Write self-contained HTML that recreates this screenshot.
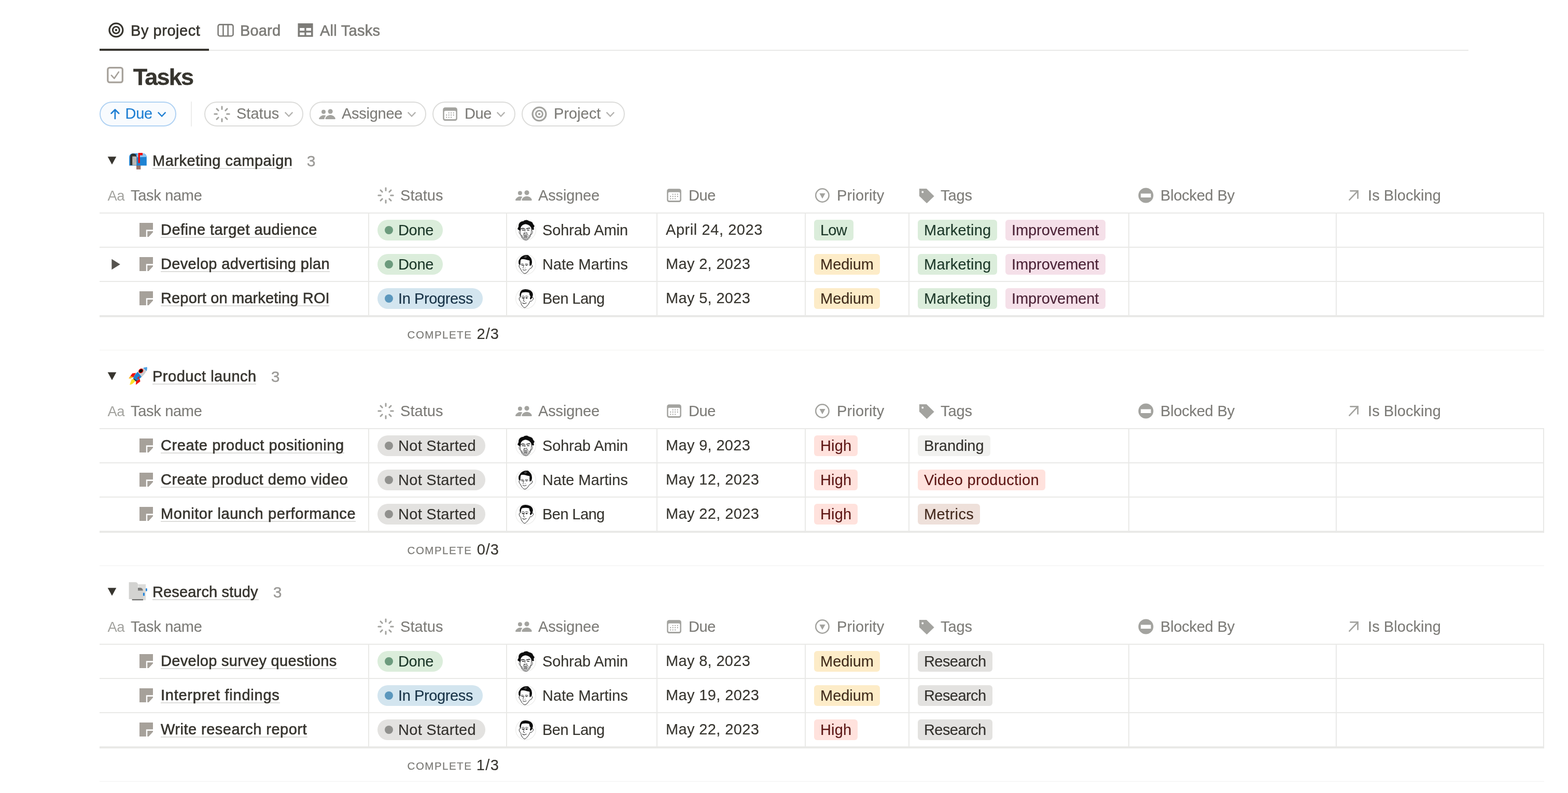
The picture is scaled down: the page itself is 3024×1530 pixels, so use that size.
<!DOCTYPE html>
<html lang="en">
<head>
<meta charset="utf-8">
<title>Tasks</title>
<style>
html,body{margin:0;padding:0;background:#fff;}
body{width:3024px;height:1530px;position:relative;overflow:hidden;font-family:'Liberation Sans', Arimo, Helvetica, Arial, sans-serif;}
main,nav,header,section{display:block;margin:0;padding:0;}
.b{position:absolute;}
.pill{top:196px;height:48px;box-sizing:border-box;border:2px solid #dcdcda;border-radius:24px;background:#fff;}
.pill.sort{border-color:#b0d2f3;background:#f8fbfe;}
.t{position:absolute;margin:0;padding:0;white-space:pre;line-height:40px;font-style:normal;font-kerning:normal;}
.ic{position:absolute;left:0;top:0;overflow:visible;pointer-events:none;}
.t0{font-size:29px;font-weight:400;color:#37352f;-webkit-text-stroke:0.65px #37352f;}
.t1{font-size:29px;font-weight:400;color:#7d7c78;-webkit-text-stroke:0.65px #7d7c78;}
.t2{font-size:45px;font-weight:700;color:#37352f;-webkit-text-stroke:0.4px #37352f;}
.t3{font-size:29px;font-weight:400;color:#1f7fd3;-webkit-text-stroke:0.15px #1f7fd3;}
.t4{font-size:29px;font-weight:400;color:#7d7c78;-webkit-text-stroke:0.15px #7d7c78;}
.t5{font-size:30px;font-weight:400;color:#9b9a97;-webkit-text-stroke:0.4px #9b9a97;}
.t6{font-size:27.5px;font-weight:400;color:#a3a39f;}
.t7{font-size:20.5px;font-weight:400;color:#7d7c78;-webkit-text-stroke:0.25px #7d7c78;}
.t8{font-size:29px;font-weight:400;color:#37352f;-webkit-text-stroke:0.15px #37352f;}
.t9{font-size:29px;font-weight:400;color:#1c3829;-webkit-text-stroke:0.15px #1c3829;}
.t10{font-size:29px;font-weight:400;color:#4c2337;-webkit-text-stroke:0.15px #4c2337;}
.t11{font-size:29px;font-weight:400;color:#402c1b;-webkit-text-stroke:0.15px #402c1b;}
.t12{font-size:29px;font-weight:400;color:#183347;-webkit-text-stroke:0.15px #183347;}
.t13{font-size:29px;font-weight:400;color:#32302c;-webkit-text-stroke:0.15px #32302c;}
.t14{font-size:29px;font-weight:400;color:#5d1715;-webkit-text-stroke:0.15px #5d1715;}
.t15{font-size:29px;font-weight:400;color:#442a1e;-webkit-text-stroke:0.15px #442a1e;}
</style>
</head>
<body>
<main>
<nav class="tabs" aria-label="Views">
<div class="b" style="left:192px;top:96px;width:2640px;height:2px;background:#e9e9e7;"></div>
<div class="b" style="left:192px;top:94px;width:211px;height:4px;background:#37352f;"></div>
<svg class="ic" width="3024" height="1530" viewBox="0 0 3024 1530" aria-hidden="true" focusable="false"><g fill="none" stroke="#37352f"><circle cx="223.9" cy="58" r="12.95" stroke-width="3.3"/><circle cx="223.9" cy="58" r="6.5" stroke-width="3.0"/></g><circle cx="223.9" cy="58" r="2.2" fill="#37352f"/><g fill="none" stroke="#7d7c78" stroke-width="2.6"><rect x="420.6" y="47.4" width="29" height="22.1" rx="3.6"/><path d="M430.4 47.4V69.5M439.7 47.4V69.5"/></g><path fill="#7d7c78" fill-rule="evenodd" d="M574.5 45H603.6V71H574.5ZM578.1 54.1V59.3H587.2V54.1ZM590.6 54.1V59.3H600V54.1ZM578.1 62.7V67.8H587.2V62.7ZM590.6 62.7V67.8H600V62.7Z"/></svg>
<span class="t t0 tab on" style="left:252.00px;top:39px;letter-spacing:0.54px;">By project</span>
<span class="t t1 tab" style="left:463.00px;top:39px;letter-spacing:0.17px;">Board</span>
<span class="t t1 tab" style="left:617.00px;top:39px;letter-spacing:0.26px;">All Tasks</span>
</nav>
<header class="title">
<svg class="ic" width="3024" height="1530" viewBox="0 0 3024 1530" aria-hidden="true" focusable="false"><g fill="none" stroke="#a6a19a" stroke-linecap="round" stroke-linejoin="round"><rect x="207.8" y="130.6" width="28.5" height="28.2" rx="3.6" stroke-width="3.3"/><path d="M214.9 145.4L220.4 151.3L228.8 138.9" stroke-width="2.7"/></g></svg>
<h1 class="t t2" style="left:256.73px;top:129px;letter-spacing:-1.74px;">Tasks</h1>
</header>
<div class="filters" role="toolbar" aria-label="Sort and filter">
<div class="b pill sort" style="left:192px;width:148px"></div>
<div class="b" style="left:368px;top:196px;width:2px;height:48px;background:#ededec;"></div>
<div class="b pill" style="left:394px;width:191px"></div>
<div class="b pill" style="left:597px;width:225px"></div>
<div class="b pill" style="left:834px;width:160px"></div>
<div class="b pill" style="left:1006px;width:199px"></div>
<svg class="ic" width="3024" height="1530" viewBox="0 0 3024 1530" aria-hidden="true" focusable="false"><path d="M221.9 229V211.6M214.6 218.8L221.9 211.5L229.2 218.8" fill="none" stroke="#1f7fd3" stroke-width="2.7" stroke-linecap="round" stroke-linejoin="round"/><path d="M304.80 216.70L312.10 224.30L319.40 216.70" fill="none" stroke="#1f7fd3" stroke-width="2.4" stroke-linecap="butt" stroke-linejoin="miter"/><path d="M437.60 220.00L442.20 220.00M434.79 226.79L438.04 230.04M428.00 229.60L428.00 234.20M421.21 226.79L417.96 230.04M418.40 220.00L413.80 220.00M421.21 213.21L417.96 209.96M428.00 210.40L428.00 205.80M434.79 213.21L438.04 209.96" fill="none" stroke="#a3a39f" stroke-width="3.0" stroke-linecap="round"/><path d="M549.70 216.70L557.00 224.30L564.30 216.70" fill="none" stroke="#b4b3b0" stroke-width="2.4" stroke-linecap="butt" stroke-linejoin="miter"/><g fill="#a3a39f" transform="translate(613.2,204.2)"><circle cx="10.8" cy="11.6" r="4.0"/><circle cx="23.9" cy="10.8" r="4.6"/><path d="M2.6 25.9C1.6 25.9 1.9 24 2.6 23C4.4 20 7.6 18 11.2 18C12.9 18 14.3 18.4 15.6 19C13.6 20.6 12.4 23 12.3 25.9Z"/><path d="M15.4 25.9C14 25.9 14.1 24.6 14.5 23.6C16 20.1 19.6 17.8 23.9 17.8C28.2 17.8 31.8 20.1 33.3 23.6C33.7 24.6 33.8 25.9 32.4 25.9Z"/></g><path d="M786.70 216.70L794.00 224.30L801.30 216.70" fill="none" stroke="#b4b3b0" stroke-width="2.4" stroke-linecap="butt" stroke-linejoin="miter"/><g transform="translate(854.2,207.3)" fill="#a3a39f"><path fill-rule="evenodd" d="M4.2 0H23.5A4.2 4.2 0 0 1 27.7 4.2V21.5A4.2 4.2 0 0 1 23.5 25.7H4.2A4.2 4.2 0 0 1 0 21.5V4.2A4.2 4.2 0 0 1 4.2 0ZM4.7 6.4A2.2 2.2 0 0 0 2.5 8.6V20.6A2.2 2.2 0 0 0 4.7 22.8H23A2.2 2.2 0 0 0 25.2 20.6V8.6A2.2 2.2 0 0 0 23 6.4Z"/><circle cx="11.5" cy="10.5" r="1.15"/><circle cx="15.9" cy="10.5" r="1.15"/><circle cx="20.5" cy="10.5" r="1.15"/><circle cx="7.0" cy="14.7" r="1.15"/><circle cx="11.5" cy="14.7" r="1.15"/><circle cx="15.9" cy="14.7" r="1.15"/><circle cx="20.5" cy="14.7" r="1.15"/><circle cx="7.0" cy="19.1" r="1.15"/><circle cx="11.5" cy="19.1" r="1.15"/><circle cx="15.9" cy="19.1" r="1.15"/></g><path d="M958.70 216.70L966.00 224.30L973.30 216.70" fill="none" stroke="#b4b3b0" stroke-width="2.4" stroke-linecap="butt" stroke-linejoin="miter"/><g fill="none" stroke="#a3a39f"><circle cx="1040" cy="220" r="12.95" stroke-width="3.3"/><circle cx="1040" cy="220" r="6.5" stroke-width="3.0"/></g><circle cx="1040" cy="220" r="2.2" fill="#a3a39f"/><path d="M1169.70 216.70L1177.00 224.30L1184.30 216.70" fill="none" stroke="#b4b3b0" stroke-width="2.4" stroke-linecap="butt" stroke-linejoin="miter"/></svg>
<div class="t t3" style="left:241.47px;top:199px;letter-spacing:-0.24px;">Due</div>
<div class="t t4" style="left:456.00px;top:199px;letter-spacing:0.02px;">Status</div>
<div class="t t4" style="left:659.00px;top:199px;letter-spacing:-0.27px;">Assignee</div>
<div class="t t4" style="left:896.00px;top:199px;letter-spacing:-0.4px;">Due</div>
<div class="t t4" style="left:1068.00px;top:199px;letter-spacing:0.04px;">Project</div>
</div>
<section class="group" aria-label="Marketing campaign">
<div class="group-head">
<div class="b ul" style="left:294px;top:324px;width:269px;height:2px;background:#dddddb;"></div>
<svg class="ic" width="3024" height="1530" viewBox="0 0 3024 1530" aria-hidden="true" focusable="false"><path d="M207.7 302.2H224.3L216 317.4Z" fill="#37352f"/><g transform="translate(240,286)"><rect x="23" y="33" width="8.3" height="7.9" fill="#9a7268"/><path d="M9.2 33.6V18Q9.2 10 17 10H35.5Q42.8 10 42.8 18V33.6Z" fill="#1e83d3"/><path d="M23.5 17.5V12.5Q24 10 27 10H35.5Q42 10 42.6 16.8Z" fill="#8ec5f1"/><path d="M11.1 32.8V17Q11.1 10.2 17 10.2Q23 10.2 23.3 17V32.8Z" fill="#2f332f"/><path d="M15.2 32.7V15.8H21.5Q23.3 16 23.4 18V32.7Z" fill="#bdbcb9"/><path d="M15.4 16L23.2 28M23.2 20L15.6 32" stroke="#a3a29f" stroke-width="0.7" fill="none"/><path d="M26.5 9H35.1V13.4H29.9V28.6H26.5Z" fill="#f20d0a"/></g></svg>
<h2 class="t t0" style="left:294.00px;top:290px;letter-spacing:0.52px;">Marketing campaign</h2>
<span class="t t5 count" style="left:591.75px;top:291px;letter-spacing:0.18px;">3</span>
</div>
<div class="thead" role="row">
<svg class="ic" width="3024" height="1530" viewBox="0 0 3024 1530" aria-hidden="true" focusable="false"><path d="M753.60 377.00L758.20 377.00M750.79 383.79L754.04 387.04M744.00 386.60L744.00 391.20M737.21 383.79L733.96 387.04M734.40 377.00L729.80 377.00M737.21 370.21L733.96 366.96M744.00 367.40L744.00 362.80M750.79 370.21L754.04 366.96" fill="none" stroke="#a3a39f" stroke-width="3.0" stroke-linecap="round"/><g fill="#a3a39f" transform="translate(992.1,361)"><circle cx="10.8" cy="11.6" r="4.0"/><circle cx="23.9" cy="10.8" r="4.6"/><path d="M2.6 25.9C1.6 25.9 1.9 24 2.6 23C4.4 20 7.6 18 11.2 18C12.9 18 14.3 18.4 15.6 19C13.6 20.6 12.4 23 12.3 25.9Z"/><path d="M15.4 25.9C14 25.9 14.1 24.6 14.5 23.6C16 20.1 19.6 17.8 23.9 17.8C28.2 17.8 31.8 20.1 33.3 23.6C33.7 24.6 33.8 25.9 32.4 25.9Z"/></g><g transform="translate(1286.2,364.3)" fill="#a3a39f"><path fill-rule="evenodd" d="M4.2 0H23.5A4.2 4.2 0 0 1 27.7 4.2V21.5A4.2 4.2 0 0 1 23.5 25.7H4.2A4.2 4.2 0 0 1 0 21.5V4.2A4.2 4.2 0 0 1 4.2 0ZM4.7 6.4A2.2 2.2 0 0 0 2.5 8.6V20.6A2.2 2.2 0 0 0 4.7 22.8H23A2.2 2.2 0 0 0 25.2 20.6V8.6A2.2 2.2 0 0 0 23 6.4Z"/><circle cx="11.5" cy="10.5" r="1.15"/><circle cx="15.9" cy="10.5" r="1.15"/><circle cx="20.5" cy="10.5" r="1.15"/><circle cx="7.0" cy="14.7" r="1.15"/><circle cx="11.5" cy="14.7" r="1.15"/><circle cx="15.9" cy="14.7" r="1.15"/><circle cx="20.5" cy="14.7" r="1.15"/><circle cx="7.0" cy="19.1" r="1.15"/><circle cx="11.5" cy="19.1" r="1.15"/><circle cx="15.9" cy="19.1" r="1.15"/></g><circle cx="1585.9" cy="377" r="12.7" fill="none" stroke="#a3a39f" stroke-width="2.5"/><path d="M1580.4 373H1591.6L1586 383.2Z" fill="#a3a39f"/><path fill-rule="evenodd" fill="#a3a39f" d="M1772.9 363.9H1786.9L1801.6 378.4L1787.4 392.3L1772.9 378.2ZM1781.2 370.5A1.9 1.9 0 1 0 1777.4 370.5A1.9 1.9 0 1 0 1781.2 370.5Z"/><path fill-rule="evenodd" fill="#a3a39f" d="M2224.4 376.9A14.5 14.5 0 1 1 2195.4 376.9A14.5 14.5 0 1 1 2224.4 376.9ZM2200.1 373.4V380.9H2219.6V373.4Z"/><path d="M2602.4 385.6L2618.2 368.8M2604.4 368.35H2618.65V382.6" fill="none" stroke="#a3a39f" stroke-width="2.7" stroke-linecap="round" stroke-linejoin="miter"/></svg>
<div class="t t6" style="left:207.53px;top:358px;letter-spacing:-0.57px;">Aa</div>
<div class="t t4 th" style="left:252.00px;top:357px;letter-spacing:-0.3px;">Task name</div>
<div class="t t4 th" style="left:772.00px;top:357px;letter-spacing:0.04px;">Status</div>
<div class="t t4 th" style="left:1038.00px;top:357px;letter-spacing:-0.14px;">Assignee</div>
<div class="t t4 th" style="left:1328.00px;top:357px;letter-spacing:-0.4px;">Due</div>
<div class="t t4 th" style="left:1614.00px;top:357px;letter-spacing:0.15px;">Priority</div>
<div class="t t4 th" style="left:1814.00px;top:357px;letter-spacing:-0.09px;">Tags</div>
<div class="t t4 th" style="left:2238.00px;top:357px;letter-spacing:-0.2px;">Blocked By</div>
<div class="t t4 th" style="left:2638.00px;top:357px;letter-spacing:0.07px;">Is Blocking</div>
</div>
<div class="grid" aria-hidden="true">
<div class="b" style="left:192px;top:410px;width:2786px;height:2px;background:#e9e9e7;"></div>
<div class="b" style="left:192px;top:476px;width:2786px;height:2px;background:#e9e9e7;"></div>
<div class="b" style="left:192px;top:542px;width:2786px;height:2px;background:#e9e9e7;"></div>
<div class="b" style="left:192px;top:608px;width:2786px;height:4px;background:#e9e9e7;"></div>
<div class="b" style="left:710px;top:412px;width:2px;height:196px;background:#e9e9e7;"></div>
<div class="b" style="left:976px;top:412px;width:2px;height:196px;background:#e9e9e7;"></div>
<div class="b" style="left:1266px;top:412px;width:2px;height:196px;background:#e9e9e7;"></div>
<div class="b" style="left:1552px;top:412px;width:2px;height:196px;background:#e9e9e7;"></div>
<div class="b" style="left:1752px;top:412px;width:2px;height:196px;background:#e9e9e7;"></div>
<div class="b" style="left:2176px;top:412px;width:2px;height:196px;background:#e9e9e7;"></div>
<div class="b" style="left:2576px;top:412px;width:2px;height:196px;background:#e9e9e7;"></div>
<div class="b" style="left:2976px;top:412px;width:2px;height:196px;background:#e9e9e7;"></div>
<div class="b" style="left:192px;top:675px;width:2786px;height:1px;background:#f1f1f0;"></div>
</div>
<div class="tfoot">
<div class="t t7" style="left:785.61px;top:626px;letter-spacing:1.49px;">COMPLETE</div>
<div class="t t8" style="left:919.61px;top:624px;letter-spacing:1.0px;">2/3</div>
</div>
<div class="row" role="row">
<div class="b ul" style="left:310px;top:457px;width:301px;height:2px;background:#dddddb;"></div>
<div class="b chip" style="left:728px;top:424px;width:126px;height:40px;background:#dbeddb;border-radius:20px;"></div>
<div class="b dot" style="left:742px;top:436px;width:16px;height:16px;background:#6c9b7d;border-radius:8px;"></div>
<div class="b chip" style="left:1570px;top:424px;width:76px;height:40px;background:#dbeddb;border-radius:6px;"></div>
<div class="b chip" style="left:1770px;top:424px;width:153px;height:40px;background:#dbeddb;border-radius:6px;"></div>
<div class="b chip" style="left:1939px;top:424px;width:193px;height:40px;background:#f5e0e9;border-radius:6px;"></div>
<svg class="ic" width="3024" height="1530" viewBox="0 0 3024 1530" aria-hidden="true" focusable="false"><path fill="#a6a19a" transform="translate(269,430)" d="M0 0H26V13.3H12.8V27H0ZM15.2 16.1H26V18L17.6 27H15.2Z"/><g transform="translate(986,416)"><circle cx="28" cy="27.95" r="19.35" fill="#fff" stroke="#eeeeed" stroke-width="1.4"/><path d="M17.6 28.9C17.3 29.0 16.2 29.1 15.8 29.7C15.4 30.2 15.0 31.2 15.1 32.2C15.2 33.2 16.1 34.9 16.5 35.7C17.0 36.4 17.8 36.6 18.0 36.7M38.7 28.1C39.0 28.3 40.1 28.5 40.5 29.2C40.9 30.0 41.1 31.5 40.9 32.7C40.7 33.8 39.8 35.2 39.3 35.9C38.8 36.6 38.1 36.6 37.8 36.7" fill="#fff" stroke="#1a1a1a" stroke-width="0.8" stroke-linejoin="round"/><path d="M17.8 25.8C17.7 26.8 17.5 30.0 17.5 31.8C17.6 33.6 17.6 34.8 18.0 36.5C18.5 38.3 19.3 40.8 20.2 42.3C21.1 43.8 22.1 44.8 23.4 45.6C24.7 46.5 26.5 47.2 27.9 47.3C29.4 47.3 31.0 46.8 32.3 45.8C33.7 44.8 35.1 42.9 36.0 41.3C36.9 39.8 37.4 38.1 37.8 36.5C38.2 34.9 38.4 33.6 38.5 31.8C38.7 30.0 38.7 26.8 38.7 25.8" fill="#fff" stroke="#1a1a1a" stroke-width="0.8" stroke-linejoin="round"/><path d="M18.3 36.5C18.5 36.1 19.8 37.8 20.6 37.8C21.5 37.8 22.3 37.0 23.2 36.5C24.1 36.1 24.6 35.5 25.8 35.2C26.9 35.0 28.9 35.0 30.1 35.2C31.3 35.5 32.2 36.1 33.1 36.5C34.0 37.0 34.9 37.8 35.7 37.8C36.4 37.8 37.5 36.0 37.6 36.5C37.8 37.0 37.1 39.5 36.5 40.8C35.9 42.2 35.0 43.7 33.9 44.7C32.9 45.7 31.1 46.4 30.1 46.8C29.1 47.3 28.8 47.3 27.9 47.3C27.1 47.2 26.0 47.2 24.9 46.6C23.9 46.1 22.4 44.9 21.5 43.8C20.6 42.8 19.9 41.6 19.3 40.4C18.8 39.2 18.0 37.0 18.3 36.5Z" fill="#6f6f6f" opacity="0.33"/><path d="M12.2 25.4C12.2 24.5 13.6 22.7 14.0 21.5C14.3 20.3 14.0 18.3 14.4 17.2C14.8 16.0 15.5 14.6 16.3 13.8C17.2 12.9 19.2 11.7 20.2 11.3C21.2 10.8 22.3 11.1 23.2 10.7C24.1 10.4 25.2 9.4 26.2 9.1C27.2 8.8 28.9 8.4 30.1 8.6C31.2 8.8 32.9 9.9 33.9 10.3C35.0 10.7 36.0 10.8 37.0 11.3C37.9 11.7 39.6 12.3 40.4 13.1C41.2 13.9 41.7 15.7 42.3 16.8C43.0 17.8 44.6 19.2 44.7 20.2C44.8 21.2 43.3 22.5 43.2 23.4C43.1 24.4 44.2 25.8 43.8 26.4C43.5 27.0 41.6 27.6 40.8 27.5C40.1 27.4 39.3 26.6 38.9 25.8C38.4 25.0 38.5 23.4 37.8 22.3C37.1 21.3 35.5 19.5 34.4 18.7C33.2 17.9 31.4 17.3 30.1 17.0C28.8 16.7 26.9 16.5 25.8 16.7C24.6 16.8 23.3 17.5 22.3 18.0C21.4 18.6 20.2 19.7 19.6 20.6C18.9 21.5 18.5 23.0 18.3 24.1C18.0 25.2 18.0 27.2 17.7 27.9C17.4 28.6 16.6 28.8 16.1 28.7C15.6 28.6 14.8 28.0 14.2 27.5C13.6 27.0 12.3 26.3 12.2 25.4Z" fill="#0d0d0d"/><path d="M19.1 25.4C19.6 25.3 20.9 24.7 21.9 24.6C22.9 24.5 24.6 24.9 25.1 24.9M29.7 25.1Q32.7 23.9 35.8 24.3" fill="none" stroke="#141414" stroke-linecap="round" stroke-linejoin="round" stroke-width="1.5"/><path d="M21.0 27.6C21.3 27.7 22.3 28.0 23.0 28.0C23.7 28.1 24.7 27.9 25.0 27.9M30.7 27.6C31.0 27.7 32.0 28.0 32.7 28.0C33.3 28.0 34.3 27.8 34.6 27.8" fill="none" stroke="#141414" stroke-linecap="round" stroke-linejoin="round" stroke-width="1.3"/><path d="M26.7 25.8L26.4 30.4M24.3 33.4Q27 34.6 30.4 32.6M24.3 37.9H30.2M25.4 40.6H30.6M23.4 35.6L25.6 34.6M31.6 35.6L29.6 34.6" fill="none" stroke="#141414" stroke-linecap="round" stroke-linejoin="round" stroke-width="0.9"/><path d="M21 40.5l.8 1.2M23 42.8l1 1.2M26 44.4l1.2.8M30 44.6l1.2-.8M33 42.6l.9-1.1M35 39.6l.7-1.2M19.6 37.6l.5 1.3M36.6 36.8l.4-1.2M28 42.6h1.4M24.8 42l1.2.3" fill="none" stroke="#141414" stroke-linecap="round" stroke-linejoin="round" stroke-width="0.8"/></g></svg>
<div class="t t0 name" style="left:310.00px;top:423px;letter-spacing:0.45px;">Define target audience</div>
<span class="t t9 status" style="left:768.00px;top:424px;letter-spacing:-0.33px;">Done</span>
<span class="t t8 person" style="left:1046.00px;top:424px;letter-spacing:-0.08px;">Sohrab Amin</span>
<time class="t t8 date" style="left:1284.00px;top:423px;letter-spacing:0.57px;">April 24, 2023</time>
<span class="t t9 prio" style="left:1582.00px;top:424px;letter-spacing:-0.8px;">Low</span>
<span class="t t9 tag" style="left:1782.00px;top:424px;letter-spacing:0.24px;">Marketing</span>
<span class="t t10 tag" style="left:1951.00px;top:424px;letter-spacing:-0.09px;">Improvement</span>
</div>
<div class="row" role="row">
<div class="b ul" style="left:310px;top:523px;width:326px;height:2px;background:#dddddb;"></div>
<div class="b chip" style="left:728px;top:490px;width:126px;height:40px;background:#dbeddb;border-radius:20px;"></div>
<div class="b dot" style="left:742px;top:502px;width:16px;height:16px;background:#6c9b7d;border-radius:8px;"></div>
<div class="b chip" style="left:1570px;top:490px;width:127px;height:40px;background:#fdecc8;border-radius:6px;"></div>
<div class="b chip" style="left:1770px;top:490px;width:153px;height:40px;background:#dbeddb;border-radius:6px;"></div>
<div class="b chip" style="left:1939px;top:490px;width:193px;height:40px;background:#f5e0e9;border-radius:6px;"></div>
<svg class="ic" width="3024" height="1530" viewBox="0 0 3024 1530" aria-hidden="true" focusable="false"><path d="M215.4 499.8L231.8 510L215.4 520.2Z" fill="#55534e"/><path fill="#a6a19a" transform="translate(269,496)" d="M0 0H26V13.3H12.8V27H0ZM15.2 16.1H26V18L17.6 27H15.2Z"/><g transform="translate(986,482)"><circle cx="28" cy="27.95" r="19.35" fill="#fff" stroke="#eeeeed" stroke-width="1.4"/><path d="M17.6 28.1C17.4 28.3 16.5 28.6 16.1 28.9C15.7 29.2 15.2 29.3 15.1 30.1C15.0 30.9 15.1 32.6 15.5 33.5C15.8 34.5 16.7 35.0 17.2 35.8C17.7 36.5 18.1 37.3 18.6 38.2C19.1 39.2 19.6 40.4 20.2 41.3C20.8 42.2 21.7 43.0 22.3 43.6C23.0 44.3 23.5 44.9 24.3 45.2C25.0 45.5 25.8 45.9 26.7 45.6C27.7 45.4 29.0 44.9 30.1 43.9C31.2 42.9 32.5 40.9 33.5 39.6C34.5 38.3 35.2 36.9 36.1 36.2C37.0 35.5 37.9 35.9 38.7 35.2C39.4 34.5 40.2 32.9 40.5 32.0C40.7 31.1 40.4 30.2 40.2 29.7C39.9 29.1 39.1 28.9 38.9 28.7" fill="#fff" stroke="#111" stroke-width="1.0" stroke-linejoin="round"/><path d="M14.5 27.5C14.3 26.9 14.1 25.1 14.1 24.1C14.1 23.0 14.1 21.6 14.4 20.6C14.7 19.7 15.6 18.7 16.1 17.8C16.7 17.0 17.4 15.6 18.0 14.8C18.7 14.1 19.4 13.4 20.2 12.9C21.0 12.4 22.1 11.7 23.2 11.3C24.3 10.8 26.1 10.3 27.5 10.1C28.9 10.0 31.5 10.1 32.7 10.4C33.8 10.7 34.4 11.9 35.0 12.5C35.7 13.1 36.3 13.7 36.9 14.4C37.4 15.1 38.3 16.2 38.8 17.4C39.2 18.6 39.8 20.9 39.9 22.3C40.0 23.8 39.9 26.0 39.6 27.1C39.3 28.2 38.6 29.1 38.0 29.7C37.4 30.2 36.1 31.3 35.7 31.0C35.3 30.7 35.4 28.5 35.3 27.5C35.3 26.5 35.3 25.1 35.3 24.1C35.3 23.0 35.7 21.3 35.2 20.7C34.7 20.1 33.0 20.1 32.0 19.9C31.0 19.6 29.4 19.1 28.4 18.9C27.4 18.7 26.5 18.4 25.4 18.3C24.2 18.1 21.7 17.9 20.6 18.0C19.6 18.2 18.7 18.5 18.3 19.4C17.8 20.3 17.9 22.7 17.7 24.1C17.6 25.4 17.5 27.7 17.3 28.4C17.0 29.0 16.3 28.5 15.9 28.4C15.5 28.2 14.8 28.1 14.5 27.5Z" fill="#0d0d0d"/><path d="M25.6 14.8Q26 12.6 28.2 11.8M27.6 15.4Q28 13.6 30 12.9" fill="none" stroke="#fff" stroke-width="0.6" stroke-linecap="round" opacity="0.85"/><path d="M18.9 27.7C19.3 27.6 20.3 27.1 21.1 27.1C21.8 27.0 23.0 27.4 23.4 27.5M27.1 27.4C27.5 27.4 28.8 27.0 29.7 27.2C30.5 27.3 31.9 28.0 32.3 28.1" fill="none" stroke="#141414" stroke-linecap="round" stroke-linejoin="round" stroke-width="0.9"/><path d="M20.1 29.4C20.3 29.5 21.0 29.8 21.5 29.8C22.0 29.9 22.7 29.7 23.0 29.7M27.8 29.4C28.1 29.5 28.8 29.8 29.3 29.8C29.8 29.9 30.5 29.7 30.7 29.7" fill="none" stroke="#141414" stroke-linecap="round" stroke-linejoin="round" stroke-width="1.3"/><path d="M24.6 29.2C24.4 29.7 23.9 31.3 23.5 32.2C23.2 33.1 22.7 34.0 22.7 34.6C22.7 35.2 23.4 35.6 23.5 35.8M26.4 35.4L27 35" fill="none" stroke="#141414" stroke-linecap="round" stroke-linejoin="round" stroke-width="0.9"/><path d="M22.3 38.2C22.8 38.4 24.3 39.4 25.4 39.4C26.5 39.4 28.3 38.4 28.9 38.2" fill="none" stroke="#141414" stroke-linecap="round" stroke-linejoin="round" stroke-width="1.0"/></g></svg>
<div class="t t0 name" style="left:310.00px;top:489px;letter-spacing:0.35px;">Develop advertising plan</div>
<span class="t t9 status" style="left:768.00px;top:490px;letter-spacing:-0.33px;">Done</span>
<span class="t t8 person" style="left:1046.00px;top:490px;letter-spacing:0.06px;">Nate Martins</span>
<time class="t t8 date" style="left:1284.00px;top:489px;letter-spacing:0.33px;">May 2, 2023</time>
<span class="t t11 prio" style="left:1582.00px;top:490px;letter-spacing:-0.03px;">Medium</span>
<span class="t t9 tag" style="left:1782.00px;top:490px;letter-spacing:0.24px;">Marketing</span>
<span class="t t10 tag" style="left:1951.00px;top:490px;letter-spacing:-0.09px;">Improvement</span>
</div>
<div class="row" role="row">
<div class="b ul" style="left:310px;top:589px;width:325px;height:2px;background:#dddddb;"></div>
<div class="b chip" style="left:728px;top:556px;width:203px;height:40px;background:#d3e5ef;border-radius:20px;"></div>
<div class="b dot" style="left:742px;top:568px;width:16px;height:16px;background:#5b97bd;border-radius:8px;"></div>
<div class="b chip" style="left:1570px;top:556px;width:127px;height:40px;background:#fdecc8;border-radius:6px;"></div>
<div class="b chip" style="left:1770px;top:556px;width:153px;height:40px;background:#dbeddb;border-radius:6px;"></div>
<div class="b chip" style="left:1939px;top:556px;width:193px;height:40px;background:#f5e0e9;border-radius:6px;"></div>
<svg class="ic" width="3024" height="1530" viewBox="0 0 3024 1530" aria-hidden="true" focusable="false"><path fill="#a6a19a" transform="translate(269,562)" d="M0 0H26V13.3H12.8V27H0ZM15.2 16.1H26V18L17.6 27H15.2Z"/><g transform="translate(986,548)"><circle cx="28" cy="27.95" r="19.35" fill="#fff" stroke="#eeeeed" stroke-width="1.4"/><path d="M17.7 25.7C17.5 25.7 16.7 25.7 16.2 26.0C15.8 26.3 15.4 26.8 15.3 27.5C15.1 28.2 15.2 29.4 15.6 30.3C15.9 31.2 16.7 32.4 17.2 33.1C17.7 33.8 18.2 33.5 18.6 34.5C18.9 35.4 18.7 37.2 19.3 38.7C20.0 40.2 21.3 42.3 22.3 43.4C23.4 44.5 24.4 45.4 25.4 45.6C26.4 45.7 27.2 45.3 28.4 44.3C29.6 43.3 31.5 41.0 32.7 39.5C33.8 38.1 34.4 36.8 35.0 35.7C35.7 34.5 36.0 33.2 36.6 32.7C37.2 32.3 37.9 33.6 38.8 33.1C39.7 32.6 41.4 30.7 42.0 29.7C42.7 28.7 42.7 27.8 42.5 27.2C42.4 26.5 41.5 25.7 40.9 25.8C40.3 25.9 39.2 27.6 38.9 27.9" fill="#fff" stroke="#111" stroke-width="1.0" stroke-linejoin="round"/><path d="M17.3 25.4C17.0 25.0 16.5 23.3 16.3 22.3C16.2 21.4 16.2 20.1 16.4 18.9C16.7 17.7 17.3 15.5 18.0 14.4C18.8 13.2 20.2 11.9 21.5 11.3C22.8 10.6 25.0 10.2 26.6 10.1C28.3 10.0 31.0 10.3 32.7 10.7C34.3 11.2 36.6 12.0 37.8 12.9C39.0 13.7 40.2 15.3 40.8 16.4C41.4 17.6 41.8 19.2 41.8 20.6C41.7 22.0 41.0 24.7 40.6 25.8C40.2 26.9 39.4 27.5 38.9 28.1C38.4 28.8 37.9 30.2 37.5 30.1C37.0 30.0 36.0 28.4 35.9 27.5C35.8 26.6 37.0 25.2 37.0 24.2C36.9 23.1 35.7 21.8 35.3 20.7C34.9 19.6 35.2 17.6 34.4 16.8C33.6 16.1 31.6 16.0 30.1 15.9C28.5 15.8 25.5 15.9 24.1 16.1C22.6 16.3 21.0 16.5 20.2 17.2C19.4 17.9 19.3 19.4 19.0 20.6C18.7 21.9 18.4 24.7 18.1 25.4C17.9 26.2 17.5 25.9 17.3 25.4Z" fill="#0d0d0d"/><path d="M20.2 24.2C20.6 24.0 21.6 23.3 22.3 23.2C23.1 23.1 24.2 23.5 24.6 23.5M27.5 23.5C27.9 23.5 29.3 23.1 30.1 23.2C30.9 23.3 31.9 24.0 32.3 24.2" fill="none" stroke="#141414" stroke-linecap="round" stroke-linejoin="round" stroke-width="0.9"/><ellipse cx="22.6" cy="27" rx="1.35" ry="1.0" fill="#111"/><ellipse cx="29.5" cy="26.9" rx="1.45" ry="1.0" fill="#111"/><path d="M20.6 26.4Q22.6 25.6 24.4 26.6M27.6 26.3Q29.6 25.5 31.6 26.6" fill="none" stroke="#141414" stroke-linecap="round" stroke-linejoin="round" stroke-width="0.8"/><path d="M25.4 24.9C25.3 25.5 24.8 27.2 24.5 28.4C24.2 29.5 23.5 30.9 23.5 31.8C23.5 32.7 24.1 33.4 24.5 33.6C24.9 33.8 25.8 33.1 26.0 33.0" fill="none" stroke="#141414" stroke-linecap="round" stroke-linejoin="round" stroke-width="1.0"/><path d="M21.8 36.5C22.4 36.8 23.8 37.9 25.0 37.9C26.2 37.9 28.2 36.6 28.9 36.4" fill="none" stroke="#141414" stroke-linecap="round" stroke-linejoin="round" stroke-width="1.1"/></g></svg>
<div class="t t0 name" style="left:310.00px;top:555px;letter-spacing:0.15px;">Report on marketing ROI</div>
<span class="t t12 status" style="left:768.00px;top:556px;letter-spacing:-0.38px;">In Progress</span>
<span class="t t8 person" style="left:1046.00px;top:556px;letter-spacing:-0.53px;">Ben Lang</span>
<time class="t t8 date" style="left:1284.00px;top:555px;letter-spacing:0.33px;">May 5, 2023</time>
<span class="t t11 prio" style="left:1582.00px;top:556px;letter-spacing:-0.03px;">Medium</span>
<span class="t t9 tag" style="left:1782.00px;top:556px;letter-spacing:0.24px;">Marketing</span>
<span class="t t10 tag" style="left:1951.00px;top:556px;letter-spacing:-0.09px;">Improvement</span>
</div>
</section>
<section class="group" aria-label="Product launch">
<div class="group-head">
<div class="b ul" style="left:294px;top:740px;width:200px;height:2px;background:#dddddb;"></div>
<svg class="ic" width="3024" height="1530" viewBox="0 0 3024 1530" aria-hidden="true" focusable="false"><path d="M207.7 718.2H224.3L216 733.4Z" fill="#37352f"/><g transform="translate(240,700)"><path d="M8.5 30L15 20.5L22 19.5L19 27.5Z" fill="#f1120c"/><path d="M8.3 30.2L11 26L17 27L12 30.5Z" fill="#fbc21c"/><path d="M22 42.5L22.5 34L29.5 30L30.5 36Z" fill="#f1120c"/><path d="M10 42.5L14 31.5L19.5 31L21 35.5L15 41Z" fill="#fde028"/><path d="M17 29.5C19 22 30 10 43.5 8.3C45 14 38 26 24.5 34Z" fill="#c9cdd0"/><path d="M17 29.5C18.5 25 22 20.5 25.5 17.5L33 27C30 30 27.5 32 24.5 34Z" fill="#2080d0"/><path d="M36.5 9.8C39 8.8 41.5 8.4 43.6 8.3C44 10.5 43.8 13 42.6 16Z" fill="#4aa0e4"/><path d="M17 29.5L24.5 34L22 36L17.5 31.5Z" fill="#17384f"/><ellipse cx="31.8" cy="15.6" rx="4.3" ry="3.5" transform="rotate(-38 31.8 15.6)" fill="#0a0a0a" stroke="#e8120d" stroke-width="1.4"/><path d="M24 30L29 25.5L27.5 31Z" fill="#f1120c"/></g></svg>
<h2 class="t t0" style="left:294.00px;top:706px;letter-spacing:0.52px;">Product launch</h2>
<span class="t t5 count" style="left:522.75px;top:707px;letter-spacing:0.68px;">3</span>
</div>
<div class="thead" role="row">
<svg class="ic" width="3024" height="1530" viewBox="0 0 3024 1530" aria-hidden="true" focusable="false"><path d="M753.60 793.00L758.20 793.00M750.79 799.79L754.04 803.04M744.00 802.60L744.00 807.20M737.21 799.79L733.96 803.04M734.40 793.00L729.80 793.00M737.21 786.21L733.96 782.96M744.00 783.40L744.00 778.80M750.79 786.21L754.04 782.96" fill="none" stroke="#a3a39f" stroke-width="3.0" stroke-linecap="round"/><g fill="#a3a39f" transform="translate(992.1,777)"><circle cx="10.8" cy="11.6" r="4.0"/><circle cx="23.9" cy="10.8" r="4.6"/><path d="M2.6 25.9C1.6 25.9 1.9 24 2.6 23C4.4 20 7.6 18 11.2 18C12.9 18 14.3 18.4 15.6 19C13.6 20.6 12.4 23 12.3 25.9Z"/><path d="M15.4 25.9C14 25.9 14.1 24.6 14.5 23.6C16 20.1 19.6 17.8 23.9 17.8C28.2 17.8 31.8 20.1 33.3 23.6C33.7 24.6 33.8 25.9 32.4 25.9Z"/></g><g transform="translate(1286.2,780.3)" fill="#a3a39f"><path fill-rule="evenodd" d="M4.2 0H23.5A4.2 4.2 0 0 1 27.7 4.2V21.5A4.2 4.2 0 0 1 23.5 25.7H4.2A4.2 4.2 0 0 1 0 21.5V4.2A4.2 4.2 0 0 1 4.2 0ZM4.7 6.4A2.2 2.2 0 0 0 2.5 8.6V20.6A2.2 2.2 0 0 0 4.7 22.8H23A2.2 2.2 0 0 0 25.2 20.6V8.6A2.2 2.2 0 0 0 23 6.4Z"/><circle cx="11.5" cy="10.5" r="1.15"/><circle cx="15.9" cy="10.5" r="1.15"/><circle cx="20.5" cy="10.5" r="1.15"/><circle cx="7.0" cy="14.7" r="1.15"/><circle cx="11.5" cy="14.7" r="1.15"/><circle cx="15.9" cy="14.7" r="1.15"/><circle cx="20.5" cy="14.7" r="1.15"/><circle cx="7.0" cy="19.1" r="1.15"/><circle cx="11.5" cy="19.1" r="1.15"/><circle cx="15.9" cy="19.1" r="1.15"/></g><circle cx="1585.9" cy="793" r="12.7" fill="none" stroke="#a3a39f" stroke-width="2.5"/><path d="M1580.4 789H1591.6L1586 799.2Z" fill="#a3a39f"/><path fill-rule="evenodd" fill="#a3a39f" d="M1772.9 779.9H1786.9L1801.6 794.4L1787.4 808.3L1772.9 794.2ZM1781.2 786.5A1.9 1.9 0 1 0 1777.4 786.5A1.9 1.9 0 1 0 1781.2 786.5Z"/><path fill-rule="evenodd" fill="#a3a39f" d="M2224.4 792.9A14.5 14.5 0 1 1 2195.4 792.9A14.5 14.5 0 1 1 2224.4 792.9ZM2200.1 789.4V796.9H2219.6V789.4Z"/><path d="M2602.4 801.6L2618.2 784.8M2604.4 784.35H2618.65V798.6" fill="none" stroke="#a3a39f" stroke-width="2.7" stroke-linecap="round" stroke-linejoin="miter"/></svg>
<div class="t t6" style="left:207.53px;top:774px;letter-spacing:-0.57px;">Aa</div>
<div class="t t4 th" style="left:252.00px;top:773px;letter-spacing:-0.3px;">Task name</div>
<div class="t t4 th" style="left:772.00px;top:773px;letter-spacing:0.04px;">Status</div>
<div class="t t4 th" style="left:1038.00px;top:773px;letter-spacing:-0.14px;">Assignee</div>
<div class="t t4 th" style="left:1328.00px;top:773px;letter-spacing:-0.4px;">Due</div>
<div class="t t4 th" style="left:1614.00px;top:773px;letter-spacing:0.15px;">Priority</div>
<div class="t t4 th" style="left:1814.00px;top:773px;letter-spacing:-0.09px;">Tags</div>
<div class="t t4 th" style="left:2238.00px;top:773px;letter-spacing:-0.2px;">Blocked By</div>
<div class="t t4 th" style="left:2638.00px;top:773px;letter-spacing:0.07px;">Is Blocking</div>
</div>
<div class="grid" aria-hidden="true">
<div class="b" style="left:192px;top:826px;width:2786px;height:2px;background:#e9e9e7;"></div>
<div class="b" style="left:192px;top:892px;width:2786px;height:2px;background:#e9e9e7;"></div>
<div class="b" style="left:192px;top:958px;width:2786px;height:2px;background:#e9e9e7;"></div>
<div class="b" style="left:192px;top:1024px;width:2786px;height:4px;background:#e9e9e7;"></div>
<div class="b" style="left:710px;top:828px;width:2px;height:196px;background:#e9e9e7;"></div>
<div class="b" style="left:976px;top:828px;width:2px;height:196px;background:#e9e9e7;"></div>
<div class="b" style="left:1266px;top:828px;width:2px;height:196px;background:#e9e9e7;"></div>
<div class="b" style="left:1552px;top:828px;width:2px;height:196px;background:#e9e9e7;"></div>
<div class="b" style="left:1752px;top:828px;width:2px;height:196px;background:#e9e9e7;"></div>
<div class="b" style="left:2176px;top:828px;width:2px;height:196px;background:#e9e9e7;"></div>
<div class="b" style="left:2576px;top:828px;width:2px;height:196px;background:#e9e9e7;"></div>
<div class="b" style="left:2976px;top:828px;width:2px;height:196px;background:#e9e9e7;"></div>
<div class="b" style="left:192px;top:1091px;width:2786px;height:1px;background:#f1f1f0;"></div>
</div>
<div class="tfoot">
<div class="t t7" style="left:785.61px;top:1042px;letter-spacing:1.49px;">COMPLETE</div>
<div class="t t8" style="left:919.84px;top:1040px;letter-spacing:0.88px;">0/3</div>
</div>
<div class="row" role="row">
<div class="b ul" style="left:310px;top:873px;width:354px;height:2px;background:#dddddb;"></div>
<div class="b chip" style="left:728px;top:840px;width:208px;height:40px;background:#e3e2e0;border-radius:20px;"></div>
<div class="b dot" style="left:742px;top:852px;width:16px;height:16px;background:#91918e;border-radius:8px;"></div>
<div class="b chip" style="left:1570px;top:840px;width:84px;height:40px;background:#ffe2dd;border-radius:6px;"></div>
<div class="b chip" style="left:1770px;top:840px;width:140px;height:40px;background:#f1f1ef;border-radius:6px;"></div>
<svg class="ic" width="3024" height="1530" viewBox="0 0 3024 1530" aria-hidden="true" focusable="false"><path fill="#a6a19a" transform="translate(269,846)" d="M0 0H26V13.3H12.8V27H0ZM15.2 16.1H26V18L17.6 27H15.2Z"/><g transform="translate(986,832)"><circle cx="28" cy="27.95" r="19.35" fill="#fff" stroke="#eeeeed" stroke-width="1.4"/><path d="M17.6 28.9C17.3 29.0 16.2 29.1 15.8 29.7C15.4 30.2 15.0 31.2 15.1 32.2C15.2 33.2 16.1 34.9 16.5 35.7C17.0 36.4 17.8 36.6 18.0 36.7M38.7 28.1C39.0 28.3 40.1 28.5 40.5 29.2C40.9 30.0 41.1 31.5 40.9 32.7C40.7 33.8 39.8 35.2 39.3 35.9C38.8 36.6 38.1 36.6 37.8 36.7" fill="#fff" stroke="#1a1a1a" stroke-width="0.8" stroke-linejoin="round"/><path d="M17.8 25.8C17.7 26.8 17.5 30.0 17.5 31.8C17.6 33.6 17.6 34.8 18.0 36.5C18.5 38.3 19.3 40.8 20.2 42.3C21.1 43.8 22.1 44.8 23.4 45.6C24.7 46.5 26.5 47.2 27.9 47.3C29.4 47.3 31.0 46.8 32.3 45.8C33.7 44.8 35.1 42.9 36.0 41.3C36.9 39.8 37.4 38.1 37.8 36.5C38.2 34.9 38.4 33.6 38.5 31.8C38.7 30.0 38.7 26.8 38.7 25.8" fill="#fff" stroke="#1a1a1a" stroke-width="0.8" stroke-linejoin="round"/><path d="M18.3 36.5C18.5 36.1 19.8 37.8 20.6 37.8C21.5 37.8 22.3 37.0 23.2 36.5C24.1 36.1 24.6 35.5 25.8 35.2C26.9 35.0 28.9 35.0 30.1 35.2C31.3 35.5 32.2 36.1 33.1 36.5C34.0 37.0 34.9 37.8 35.7 37.8C36.4 37.8 37.5 36.0 37.6 36.5C37.8 37.0 37.1 39.5 36.5 40.8C35.9 42.2 35.0 43.7 33.9 44.7C32.9 45.7 31.1 46.4 30.1 46.8C29.1 47.3 28.8 47.3 27.9 47.3C27.1 47.2 26.0 47.2 24.9 46.6C23.9 46.1 22.4 44.9 21.5 43.8C20.6 42.8 19.9 41.6 19.3 40.4C18.8 39.2 18.0 37.0 18.3 36.5Z" fill="#6f6f6f" opacity="0.33"/><path d="M12.2 25.4C12.2 24.5 13.6 22.7 14.0 21.5C14.3 20.3 14.0 18.3 14.4 17.2C14.8 16.0 15.5 14.6 16.3 13.8C17.2 12.9 19.2 11.7 20.2 11.3C21.2 10.8 22.3 11.1 23.2 10.7C24.1 10.4 25.2 9.4 26.2 9.1C27.2 8.8 28.9 8.4 30.1 8.6C31.2 8.8 32.9 9.9 33.9 10.3C35.0 10.7 36.0 10.8 37.0 11.3C37.9 11.7 39.6 12.3 40.4 13.1C41.2 13.9 41.7 15.7 42.3 16.8C43.0 17.8 44.6 19.2 44.7 20.2C44.8 21.2 43.3 22.5 43.2 23.4C43.1 24.4 44.2 25.8 43.8 26.4C43.5 27.0 41.6 27.6 40.8 27.5C40.1 27.4 39.3 26.6 38.9 25.8C38.4 25.0 38.5 23.4 37.8 22.3C37.1 21.3 35.5 19.5 34.4 18.7C33.2 17.9 31.4 17.3 30.1 17.0C28.8 16.7 26.9 16.5 25.8 16.7C24.6 16.8 23.3 17.5 22.3 18.0C21.4 18.6 20.2 19.7 19.6 20.6C18.9 21.5 18.5 23.0 18.3 24.1C18.0 25.2 18.0 27.2 17.7 27.9C17.4 28.6 16.6 28.8 16.1 28.7C15.6 28.6 14.8 28.0 14.2 27.5C13.6 27.0 12.3 26.3 12.2 25.4Z" fill="#0d0d0d"/><path d="M19.1 25.4C19.6 25.3 20.9 24.7 21.9 24.6C22.9 24.5 24.6 24.9 25.1 24.9M29.7 25.1Q32.7 23.9 35.8 24.3" fill="none" stroke="#141414" stroke-linecap="round" stroke-linejoin="round" stroke-width="1.5"/><path d="M21.0 27.6C21.3 27.7 22.3 28.0 23.0 28.0C23.7 28.1 24.7 27.9 25.0 27.9M30.7 27.6C31.0 27.7 32.0 28.0 32.7 28.0C33.3 28.0 34.3 27.8 34.6 27.8" fill="none" stroke="#141414" stroke-linecap="round" stroke-linejoin="round" stroke-width="1.3"/><path d="M26.7 25.8L26.4 30.4M24.3 33.4Q27 34.6 30.4 32.6M24.3 37.9H30.2M25.4 40.6H30.6M23.4 35.6L25.6 34.6M31.6 35.6L29.6 34.6" fill="none" stroke="#141414" stroke-linecap="round" stroke-linejoin="round" stroke-width="0.9"/><path d="M21 40.5l.8 1.2M23 42.8l1 1.2M26 44.4l1.2.8M30 44.6l1.2-.8M33 42.6l.9-1.1M35 39.6l.7-1.2M19.6 37.6l.5 1.3M36.6 36.8l.4-1.2M28 42.6h1.4M24.8 42l1.2.3" fill="none" stroke="#141414" stroke-linecap="round" stroke-linejoin="round" stroke-width="0.8"/></g></svg>
<div class="t t0 name" style="left:310.00px;top:839px;letter-spacing:0.58px;">Create product positioning</div>
<span class="t t13 status" style="left:768.00px;top:840px;letter-spacing:0.29px;">Not Started</span>
<span class="t t8 person" style="left:1046.00px;top:840px;letter-spacing:-0.08px;">Sohrab Amin</span>
<time class="t t8 date" style="left:1284.00px;top:839px;letter-spacing:0.33px;">May 9, 2023</time>
<span class="t t14 prio" style="left:1582.00px;top:840px;letter-spacing:0.14px;">High</span>
<span class="t t13 tag" style="left:1782.00px;top:840px;letter-spacing:-0.08px;">Branding</span>
</div>
<div class="row" role="row">
<div class="b ul" style="left:310px;top:939px;width:361px;height:2px;background:#dddddb;"></div>
<div class="b chip" style="left:728px;top:906px;width:208px;height:40px;background:#e3e2e0;border-radius:20px;"></div>
<div class="b dot" style="left:742px;top:918px;width:16px;height:16px;background:#91918e;border-radius:8px;"></div>
<div class="b chip" style="left:1570px;top:906px;width:84px;height:40px;background:#ffe2dd;border-radius:6px;"></div>
<div class="b chip" style="left:1770px;top:906px;width:246px;height:40px;background:#ffe2dd;border-radius:6px;"></div>
<svg class="ic" width="3024" height="1530" viewBox="0 0 3024 1530" aria-hidden="true" focusable="false"><path fill="#a6a19a" transform="translate(269,912)" d="M0 0H26V13.3H12.8V27H0ZM15.2 16.1H26V18L17.6 27H15.2Z"/><g transform="translate(986,898)"><circle cx="28" cy="27.95" r="19.35" fill="#fff" stroke="#eeeeed" stroke-width="1.4"/><path d="M17.6 28.1C17.4 28.3 16.5 28.6 16.1 28.9C15.7 29.2 15.2 29.3 15.1 30.1C15.0 30.9 15.1 32.6 15.5 33.5C15.8 34.5 16.7 35.0 17.2 35.8C17.7 36.5 18.1 37.3 18.6 38.2C19.1 39.2 19.6 40.4 20.2 41.3C20.8 42.2 21.7 43.0 22.3 43.6C23.0 44.3 23.5 44.9 24.3 45.2C25.0 45.5 25.8 45.9 26.7 45.6C27.7 45.4 29.0 44.9 30.1 43.9C31.2 42.9 32.5 40.9 33.5 39.6C34.5 38.3 35.2 36.9 36.1 36.2C37.0 35.5 37.9 35.9 38.7 35.2C39.4 34.5 40.2 32.9 40.5 32.0C40.7 31.1 40.4 30.2 40.2 29.7C39.9 29.1 39.1 28.9 38.9 28.7" fill="#fff" stroke="#111" stroke-width="1.0" stroke-linejoin="round"/><path d="M14.5 27.5C14.3 26.9 14.1 25.1 14.1 24.1C14.1 23.0 14.1 21.6 14.4 20.6C14.7 19.7 15.6 18.7 16.1 17.8C16.7 17.0 17.4 15.6 18.0 14.8C18.7 14.1 19.4 13.4 20.2 12.9C21.0 12.4 22.1 11.7 23.2 11.3C24.3 10.8 26.1 10.3 27.5 10.1C28.9 10.0 31.5 10.1 32.7 10.4C33.8 10.7 34.4 11.9 35.0 12.5C35.7 13.1 36.3 13.7 36.9 14.4C37.4 15.1 38.3 16.2 38.8 17.4C39.2 18.6 39.8 20.9 39.9 22.3C40.0 23.8 39.9 26.0 39.6 27.1C39.3 28.2 38.6 29.1 38.0 29.7C37.4 30.2 36.1 31.3 35.7 31.0C35.3 30.7 35.4 28.5 35.3 27.5C35.3 26.5 35.3 25.1 35.3 24.1C35.3 23.0 35.7 21.3 35.2 20.7C34.7 20.1 33.0 20.1 32.0 19.9C31.0 19.6 29.4 19.1 28.4 18.9C27.4 18.7 26.5 18.4 25.4 18.3C24.2 18.1 21.7 17.9 20.6 18.0C19.6 18.2 18.7 18.5 18.3 19.4C17.8 20.3 17.9 22.7 17.7 24.1C17.6 25.4 17.5 27.7 17.3 28.4C17.0 29.0 16.3 28.5 15.9 28.4C15.5 28.2 14.8 28.1 14.5 27.5Z" fill="#0d0d0d"/><path d="M25.6 14.8Q26 12.6 28.2 11.8M27.6 15.4Q28 13.6 30 12.9" fill="none" stroke="#fff" stroke-width="0.6" stroke-linecap="round" opacity="0.85"/><path d="M18.9 27.7C19.3 27.6 20.3 27.1 21.1 27.1C21.8 27.0 23.0 27.4 23.4 27.5M27.1 27.4C27.5 27.4 28.8 27.0 29.7 27.2C30.5 27.3 31.9 28.0 32.3 28.1" fill="none" stroke="#141414" stroke-linecap="round" stroke-linejoin="round" stroke-width="0.9"/><path d="M20.1 29.4C20.3 29.5 21.0 29.8 21.5 29.8C22.0 29.9 22.7 29.7 23.0 29.7M27.8 29.4C28.1 29.5 28.8 29.8 29.3 29.8C29.8 29.9 30.5 29.7 30.7 29.7" fill="none" stroke="#141414" stroke-linecap="round" stroke-linejoin="round" stroke-width="1.3"/><path d="M24.6 29.2C24.4 29.7 23.9 31.3 23.5 32.2C23.2 33.1 22.7 34.0 22.7 34.6C22.7 35.2 23.4 35.6 23.5 35.8M26.4 35.4L27 35" fill="none" stroke="#141414" stroke-linecap="round" stroke-linejoin="round" stroke-width="0.9"/><path d="M22.3 38.2C22.8 38.4 24.3 39.4 25.4 39.4C26.5 39.4 28.3 38.4 28.9 38.2" fill="none" stroke="#141414" stroke-linecap="round" stroke-linejoin="round" stroke-width="1.0"/></g></svg>
<div class="t t0 name" style="left:310.00px;top:905px;letter-spacing:0.45px;">Create product demo video</div>
<span class="t t13 status" style="left:768.00px;top:906px;letter-spacing:0.29px;">Not Started</span>
<span class="t t8 person" style="left:1046.00px;top:906px;letter-spacing:0.06px;">Nate Martins</span>
<time class="t t8 date" style="left:1284.00px;top:905px;letter-spacing:0.37px;">May 12, 2023</time>
<span class="t t14 prio" style="left:1582.00px;top:906px;letter-spacing:0.14px;">High</span>
<span class="t t14 tag" style="left:1782.00px;top:906px;letter-spacing:0.3px;">Video production</span>
</div>
<div class="row" role="row">
<div class="b ul" style="left:310px;top:1005px;width:376px;height:2px;background:#dddddb;"></div>
<div class="b chip" style="left:728px;top:972px;width:208px;height:40px;background:#e3e2e0;border-radius:20px;"></div>
<div class="b dot" style="left:742px;top:984px;width:16px;height:16px;background:#91918e;border-radius:8px;"></div>
<div class="b chip" style="left:1570px;top:972px;width:84px;height:40px;background:#ffe2dd;border-radius:6px;"></div>
<div class="b chip" style="left:1770px;top:972px;width:120px;height:40px;background:#eee0da;border-radius:6px;"></div>
<svg class="ic" width="3024" height="1530" viewBox="0 0 3024 1530" aria-hidden="true" focusable="false"><path fill="#a6a19a" transform="translate(269,978)" d="M0 0H26V13.3H12.8V27H0ZM15.2 16.1H26V18L17.6 27H15.2Z"/><g transform="translate(986,964)"><circle cx="28" cy="27.95" r="19.35" fill="#fff" stroke="#eeeeed" stroke-width="1.4"/><path d="M17.7 25.7C17.5 25.7 16.7 25.7 16.2 26.0C15.8 26.3 15.4 26.8 15.3 27.5C15.1 28.2 15.2 29.4 15.6 30.3C15.9 31.2 16.7 32.4 17.2 33.1C17.7 33.8 18.2 33.5 18.6 34.5C18.9 35.4 18.7 37.2 19.3 38.7C20.0 40.2 21.3 42.3 22.3 43.4C23.4 44.5 24.4 45.4 25.4 45.6C26.4 45.7 27.2 45.3 28.4 44.3C29.6 43.3 31.5 41.0 32.7 39.5C33.8 38.1 34.4 36.8 35.0 35.7C35.7 34.5 36.0 33.2 36.6 32.7C37.2 32.3 37.9 33.6 38.8 33.1C39.7 32.6 41.4 30.7 42.0 29.7C42.7 28.7 42.7 27.8 42.5 27.2C42.4 26.5 41.5 25.7 40.9 25.8C40.3 25.9 39.2 27.6 38.9 27.9" fill="#fff" stroke="#111" stroke-width="1.0" stroke-linejoin="round"/><path d="M17.3 25.4C17.0 25.0 16.5 23.3 16.3 22.3C16.2 21.4 16.2 20.1 16.4 18.9C16.7 17.7 17.3 15.5 18.0 14.4C18.8 13.2 20.2 11.9 21.5 11.3C22.8 10.6 25.0 10.2 26.6 10.1C28.3 10.0 31.0 10.3 32.7 10.7C34.3 11.2 36.6 12.0 37.8 12.9C39.0 13.7 40.2 15.3 40.8 16.4C41.4 17.6 41.8 19.2 41.8 20.6C41.7 22.0 41.0 24.7 40.6 25.8C40.2 26.9 39.4 27.5 38.9 28.1C38.4 28.8 37.9 30.2 37.5 30.1C37.0 30.0 36.0 28.4 35.9 27.5C35.8 26.6 37.0 25.2 37.0 24.2C36.9 23.1 35.7 21.8 35.3 20.7C34.9 19.6 35.2 17.6 34.4 16.8C33.6 16.1 31.6 16.0 30.1 15.9C28.5 15.8 25.5 15.9 24.1 16.1C22.6 16.3 21.0 16.5 20.2 17.2C19.4 17.9 19.3 19.4 19.0 20.6C18.7 21.9 18.4 24.7 18.1 25.4C17.9 26.2 17.5 25.9 17.3 25.4Z" fill="#0d0d0d"/><path d="M20.2 24.2C20.6 24.0 21.6 23.3 22.3 23.2C23.1 23.1 24.2 23.5 24.6 23.5M27.5 23.5C27.9 23.5 29.3 23.1 30.1 23.2C30.9 23.3 31.9 24.0 32.3 24.2" fill="none" stroke="#141414" stroke-linecap="round" stroke-linejoin="round" stroke-width="0.9"/><ellipse cx="22.6" cy="27" rx="1.35" ry="1.0" fill="#111"/><ellipse cx="29.5" cy="26.9" rx="1.45" ry="1.0" fill="#111"/><path d="M20.6 26.4Q22.6 25.6 24.4 26.6M27.6 26.3Q29.6 25.5 31.6 26.6" fill="none" stroke="#141414" stroke-linecap="round" stroke-linejoin="round" stroke-width="0.8"/><path d="M25.4 24.9C25.3 25.5 24.8 27.2 24.5 28.4C24.2 29.5 23.5 30.9 23.5 31.8C23.5 32.7 24.1 33.4 24.5 33.6C24.9 33.8 25.8 33.1 26.0 33.0" fill="none" stroke="#141414" stroke-linecap="round" stroke-linejoin="round" stroke-width="1.0"/><path d="M21.8 36.5C22.4 36.8 23.8 37.9 25.0 37.9C26.2 37.9 28.2 36.6 28.9 36.4" fill="none" stroke="#141414" stroke-linecap="round" stroke-linejoin="round" stroke-width="1.1"/></g></svg>
<div class="t t0 name" style="left:310.00px;top:971px;letter-spacing:0.58px;">Monitor launch performance</div>
<span class="t t13 status" style="left:768.00px;top:972px;letter-spacing:0.29px;">Not Started</span>
<span class="t t8 person" style="left:1046.00px;top:972px;letter-spacing:-0.53px;">Ben Lang</span>
<time class="t t8 date" style="left:1284.00px;top:971px;letter-spacing:0.37px;">May 22, 2023</time>
<span class="t t14 prio" style="left:1582.00px;top:972px;letter-spacing:0.14px;">High</span>
<span class="t t15 tag" style="left:1782.00px;top:972px;letter-spacing:0.4px;">Metrics</span>
</div>
</section>
<section class="group" aria-label="Research study">
<div class="group-head">
<div class="b ul" style="left:294px;top:1156px;width:205px;height:2px;background:#dddddb;"></div>
<svg class="ic" width="3024" height="1530" viewBox="0 0 3024 1530" aria-hidden="true" focusable="false"><path d="M207.7 1134.2H224.3L216 1149.4Z" fill="#37352f"/><g transform="translate(240,1116)"><path d="M26 11.2H41.2V42H30Z" fill="#dcdcda"/><path d="M14.6 40H36V42.3H14.6Z" fill="#6f6f6d"/><path d="M8.6 7.3H21.5Q25.6 7.6 26 12V18.2L35.9 23V40H8.6Z" fill="#d3d3d1"/><path d="M26 18H31Q35.4 18.6 35.7 23.4H26Z" fill="#7b7b79"/><rect x="41" y="19" width="2.7" height="5.8" rx="1.3" fill="#1f83da"/><rect x="35.9" y="27.4" width="3" height="6.4" rx="1.4" fill="#1f83da"/></g></svg>
<h2 class="t t0" style="left:294.00px;top:1122px;letter-spacing:0.15px;">Research study</h2>
<span class="t t5 count" style="left:526.75px;top:1123px;letter-spacing:0.68px;">3</span>
</div>
<div class="thead" role="row">
<svg class="ic" width="3024" height="1530" viewBox="0 0 3024 1530" aria-hidden="true" focusable="false"><path d="M753.60 1209.00L758.20 1209.00M750.79 1215.79L754.04 1219.04M744.00 1218.60L744.00 1223.20M737.21 1215.79L733.96 1219.04M734.40 1209.00L729.80 1209.00M737.21 1202.21L733.96 1198.96M744.00 1199.40L744.00 1194.80M750.79 1202.21L754.04 1198.96" fill="none" stroke="#a3a39f" stroke-width="3.0" stroke-linecap="round"/><g fill="#a3a39f" transform="translate(992.1,1193)"><circle cx="10.8" cy="11.6" r="4.0"/><circle cx="23.9" cy="10.8" r="4.6"/><path d="M2.6 25.9C1.6 25.9 1.9 24 2.6 23C4.4 20 7.6 18 11.2 18C12.9 18 14.3 18.4 15.6 19C13.6 20.6 12.4 23 12.3 25.9Z"/><path d="M15.4 25.9C14 25.9 14.1 24.6 14.5 23.6C16 20.1 19.6 17.8 23.9 17.8C28.2 17.8 31.8 20.1 33.3 23.6C33.7 24.6 33.8 25.9 32.4 25.9Z"/></g><g transform="translate(1286.2,1196.3)" fill="#a3a39f"><path fill-rule="evenodd" d="M4.2 0H23.5A4.2 4.2 0 0 1 27.7 4.2V21.5A4.2 4.2 0 0 1 23.5 25.7H4.2A4.2 4.2 0 0 1 0 21.5V4.2A4.2 4.2 0 0 1 4.2 0ZM4.7 6.4A2.2 2.2 0 0 0 2.5 8.6V20.6A2.2 2.2 0 0 0 4.7 22.8H23A2.2 2.2 0 0 0 25.2 20.6V8.6A2.2 2.2 0 0 0 23 6.4Z"/><circle cx="11.5" cy="10.5" r="1.15"/><circle cx="15.9" cy="10.5" r="1.15"/><circle cx="20.5" cy="10.5" r="1.15"/><circle cx="7.0" cy="14.7" r="1.15"/><circle cx="11.5" cy="14.7" r="1.15"/><circle cx="15.9" cy="14.7" r="1.15"/><circle cx="20.5" cy="14.7" r="1.15"/><circle cx="7.0" cy="19.1" r="1.15"/><circle cx="11.5" cy="19.1" r="1.15"/><circle cx="15.9" cy="19.1" r="1.15"/></g><circle cx="1585.9" cy="1209" r="12.7" fill="none" stroke="#a3a39f" stroke-width="2.5"/><path d="M1580.4 1205H1591.6L1586 1215.2Z" fill="#a3a39f"/><path fill-rule="evenodd" fill="#a3a39f" d="M1772.9 1195.9H1786.9L1801.6 1210.4L1787.4 1224.3L1772.9 1210.2ZM1781.2 1202.5A1.9 1.9 0 1 0 1777.4 1202.5A1.9 1.9 0 1 0 1781.2 1202.5Z"/><path fill-rule="evenodd" fill="#a3a39f" d="M2224.4 1208.9A14.5 14.5 0 1 1 2195.4 1208.9A14.5 14.5 0 1 1 2224.4 1208.9ZM2200.1 1205.4V1212.9H2219.6V1205.4Z"/><path d="M2602.4 1217.6L2618.2 1200.8M2604.4 1200.35H2618.65V1214.6" fill="none" stroke="#a3a39f" stroke-width="2.7" stroke-linecap="round" stroke-linejoin="miter"/></svg>
<div class="t t6" style="left:207.53px;top:1190px;letter-spacing:-0.57px;">Aa</div>
<div class="t t4 th" style="left:252.00px;top:1189px;letter-spacing:-0.3px;">Task name</div>
<div class="t t4 th" style="left:772.00px;top:1189px;letter-spacing:0.04px;">Status</div>
<div class="t t4 th" style="left:1038.00px;top:1189px;letter-spacing:-0.14px;">Assignee</div>
<div class="t t4 th" style="left:1328.00px;top:1189px;letter-spacing:-0.4px;">Due</div>
<div class="t t4 th" style="left:1614.00px;top:1189px;letter-spacing:0.15px;">Priority</div>
<div class="t t4 th" style="left:1814.00px;top:1189px;letter-spacing:-0.09px;">Tags</div>
<div class="t t4 th" style="left:2238.00px;top:1189px;letter-spacing:-0.2px;">Blocked By</div>
<div class="t t4 th" style="left:2638.00px;top:1189px;letter-spacing:0.07px;">Is Blocking</div>
</div>
<div class="grid" aria-hidden="true">
<div class="b" style="left:192px;top:1242px;width:2786px;height:2px;background:#e9e9e7;"></div>
<div class="b" style="left:192px;top:1308px;width:2786px;height:2px;background:#e9e9e7;"></div>
<div class="b" style="left:192px;top:1374px;width:2786px;height:2px;background:#e9e9e7;"></div>
<div class="b" style="left:192px;top:1440px;width:2786px;height:4px;background:#e9e9e7;"></div>
<div class="b" style="left:710px;top:1244px;width:2px;height:196px;background:#e9e9e7;"></div>
<div class="b" style="left:976px;top:1244px;width:2px;height:196px;background:#e9e9e7;"></div>
<div class="b" style="left:1266px;top:1244px;width:2px;height:196px;background:#e9e9e7;"></div>
<div class="b" style="left:1552px;top:1244px;width:2px;height:196px;background:#e9e9e7;"></div>
<div class="b" style="left:1752px;top:1244px;width:2px;height:196px;background:#e9e9e7;"></div>
<div class="b" style="left:2176px;top:1244px;width:2px;height:196px;background:#e9e9e7;"></div>
<div class="b" style="left:2576px;top:1244px;width:2px;height:196px;background:#e9e9e7;"></div>
<div class="b" style="left:2976px;top:1244px;width:2px;height:196px;background:#e9e9e7;"></div>
<div class="b" style="left:192px;top:1507px;width:2786px;height:1px;background:#f1f1f0;"></div>
</div>
<div class="tfoot">
<div class="t t7" style="left:785.61px;top:1458px;letter-spacing:1.49px;">COMPLETE</div>
<div class="t t8" style="left:918.81px;top:1456px;letter-spacing:1.4px;">1/3</div>
</div>
<div class="row" role="row">
<div class="b ul" style="left:310px;top:1289px;width:340px;height:2px;background:#dddddb;"></div>
<div class="b chip" style="left:728px;top:1256px;width:126px;height:40px;background:#dbeddb;border-radius:20px;"></div>
<div class="b dot" style="left:742px;top:1268px;width:16px;height:16px;background:#6c9b7d;border-radius:8px;"></div>
<div class="b chip" style="left:1570px;top:1256px;width:127px;height:40px;background:#fdecc8;border-radius:6px;"></div>
<div class="b chip" style="left:1770px;top:1256px;width:144px;height:40px;background:#e3e2e0;border-radius:6px;"></div>
<svg class="ic" width="3024" height="1530" viewBox="0 0 3024 1530" aria-hidden="true" focusable="false"><path fill="#a6a19a" transform="translate(269,1262)" d="M0 0H26V13.3H12.8V27H0ZM15.2 16.1H26V18L17.6 27H15.2Z"/><g transform="translate(986,1248)"><circle cx="28" cy="27.95" r="19.35" fill="#fff" stroke="#eeeeed" stroke-width="1.4"/><path d="M17.6 28.9C17.3 29.0 16.2 29.1 15.8 29.7C15.4 30.2 15.0 31.2 15.1 32.2C15.2 33.2 16.1 34.9 16.5 35.7C17.0 36.4 17.8 36.6 18.0 36.7M38.7 28.1C39.0 28.3 40.1 28.5 40.5 29.2C40.9 30.0 41.1 31.5 40.9 32.7C40.7 33.8 39.8 35.2 39.3 35.9C38.8 36.6 38.1 36.6 37.8 36.7" fill="#fff" stroke="#1a1a1a" stroke-width="0.8" stroke-linejoin="round"/><path d="M17.8 25.8C17.7 26.8 17.5 30.0 17.5 31.8C17.6 33.6 17.6 34.8 18.0 36.5C18.5 38.3 19.3 40.8 20.2 42.3C21.1 43.8 22.1 44.8 23.4 45.6C24.7 46.5 26.5 47.2 27.9 47.3C29.4 47.3 31.0 46.8 32.3 45.8C33.7 44.8 35.1 42.9 36.0 41.3C36.9 39.8 37.4 38.1 37.8 36.5C38.2 34.9 38.4 33.6 38.5 31.8C38.7 30.0 38.7 26.8 38.7 25.8" fill="#fff" stroke="#1a1a1a" stroke-width="0.8" stroke-linejoin="round"/><path d="M18.3 36.5C18.5 36.1 19.8 37.8 20.6 37.8C21.5 37.8 22.3 37.0 23.2 36.5C24.1 36.1 24.6 35.5 25.8 35.2C26.9 35.0 28.9 35.0 30.1 35.2C31.3 35.5 32.2 36.1 33.1 36.5C34.0 37.0 34.9 37.8 35.7 37.8C36.4 37.8 37.5 36.0 37.6 36.5C37.8 37.0 37.1 39.5 36.5 40.8C35.9 42.2 35.0 43.7 33.9 44.7C32.9 45.7 31.1 46.4 30.1 46.8C29.1 47.3 28.8 47.3 27.9 47.3C27.1 47.2 26.0 47.2 24.9 46.6C23.9 46.1 22.4 44.9 21.5 43.8C20.6 42.8 19.9 41.6 19.3 40.4C18.8 39.2 18.0 37.0 18.3 36.5Z" fill="#6f6f6f" opacity="0.33"/><path d="M12.2 25.4C12.2 24.5 13.6 22.7 14.0 21.5C14.3 20.3 14.0 18.3 14.4 17.2C14.8 16.0 15.5 14.6 16.3 13.8C17.2 12.9 19.2 11.7 20.2 11.3C21.2 10.8 22.3 11.1 23.2 10.7C24.1 10.4 25.2 9.4 26.2 9.1C27.2 8.8 28.9 8.4 30.1 8.6C31.2 8.8 32.9 9.9 33.9 10.3C35.0 10.7 36.0 10.8 37.0 11.3C37.9 11.7 39.6 12.3 40.4 13.1C41.2 13.9 41.7 15.7 42.3 16.8C43.0 17.8 44.6 19.2 44.7 20.2C44.8 21.2 43.3 22.5 43.2 23.4C43.1 24.4 44.2 25.8 43.8 26.4C43.5 27.0 41.6 27.6 40.8 27.5C40.1 27.4 39.3 26.6 38.9 25.8C38.4 25.0 38.5 23.4 37.8 22.3C37.1 21.3 35.5 19.5 34.4 18.7C33.2 17.9 31.4 17.3 30.1 17.0C28.8 16.7 26.9 16.5 25.8 16.7C24.6 16.8 23.3 17.5 22.3 18.0C21.4 18.6 20.2 19.7 19.6 20.6C18.9 21.5 18.5 23.0 18.3 24.1C18.0 25.2 18.0 27.2 17.7 27.9C17.4 28.6 16.6 28.8 16.1 28.7C15.6 28.6 14.8 28.0 14.2 27.5C13.6 27.0 12.3 26.3 12.2 25.4Z" fill="#0d0d0d"/><path d="M19.1 25.4C19.6 25.3 20.9 24.7 21.9 24.6C22.9 24.5 24.6 24.9 25.1 24.9M29.7 25.1Q32.7 23.9 35.8 24.3" fill="none" stroke="#141414" stroke-linecap="round" stroke-linejoin="round" stroke-width="1.5"/><path d="M21.0 27.6C21.3 27.7 22.3 28.0 23.0 28.0C23.7 28.1 24.7 27.9 25.0 27.9M30.7 27.6C31.0 27.7 32.0 28.0 32.7 28.0C33.3 28.0 34.3 27.8 34.6 27.8" fill="none" stroke="#141414" stroke-linecap="round" stroke-linejoin="round" stroke-width="1.3"/><path d="M26.7 25.8L26.4 30.4M24.3 33.4Q27 34.6 30.4 32.6M24.3 37.9H30.2M25.4 40.6H30.6M23.4 35.6L25.6 34.6M31.6 35.6L29.6 34.6" fill="none" stroke="#141414" stroke-linecap="round" stroke-linejoin="round" stroke-width="0.9"/><path d="M21 40.5l.8 1.2M23 42.8l1 1.2M26 44.4l1.2.8M30 44.6l1.2-.8M33 42.6l.9-1.1M35 39.6l.7-1.2M19.6 37.6l.5 1.3M36.6 36.8l.4-1.2M28 42.6h1.4M24.8 42l1.2.3" fill="none" stroke="#141414" stroke-linecap="round" stroke-linejoin="round" stroke-width="0.8"/></g></svg>
<div class="t t0 name" style="left:310.00px;top:1255px;letter-spacing:0.31px;">Develop survey questions</div>
<span class="t t9 status" style="left:768.00px;top:1256px;letter-spacing:-0.33px;">Done</span>
<span class="t t8 person" style="left:1046.00px;top:1256px;letter-spacing:-0.08px;">Sohrab Amin</span>
<time class="t t8 date" style="left:1284.00px;top:1255px;letter-spacing:0.33px;">May 8, 2023</time>
<span class="t t11 prio" style="left:1582.00px;top:1256px;letter-spacing:-0.03px;">Medium</span>
<span class="t t13 tag" style="left:1782.00px;top:1256px;letter-spacing:-0.58px;">Research</span>
</div>
<div class="row" role="row">
<div class="b ul" style="left:310px;top:1355px;width:230px;height:2px;background:#dddddb;"></div>
<div class="b chip" style="left:728px;top:1322px;width:203px;height:40px;background:#d3e5ef;border-radius:20px;"></div>
<div class="b dot" style="left:742px;top:1334px;width:16px;height:16px;background:#5b97bd;border-radius:8px;"></div>
<div class="b chip" style="left:1570px;top:1322px;width:127px;height:40px;background:#fdecc8;border-radius:6px;"></div>
<div class="b chip" style="left:1770px;top:1322px;width:144px;height:40px;background:#e3e2e0;border-radius:6px;"></div>
<svg class="ic" width="3024" height="1530" viewBox="0 0 3024 1530" aria-hidden="true" focusable="false"><path fill="#a6a19a" transform="translate(269,1328)" d="M0 0H26V13.3H12.8V27H0ZM15.2 16.1H26V18L17.6 27H15.2Z"/><g transform="translate(986,1314)"><circle cx="28" cy="27.95" r="19.35" fill="#fff" stroke="#eeeeed" stroke-width="1.4"/><path d="M17.6 28.1C17.4 28.3 16.5 28.6 16.1 28.9C15.7 29.2 15.2 29.3 15.1 30.1C15.0 30.9 15.1 32.6 15.5 33.5C15.8 34.5 16.7 35.0 17.2 35.8C17.7 36.5 18.1 37.3 18.6 38.2C19.1 39.2 19.6 40.4 20.2 41.3C20.8 42.2 21.7 43.0 22.3 43.6C23.0 44.3 23.5 44.9 24.3 45.2C25.0 45.5 25.8 45.9 26.7 45.6C27.7 45.4 29.0 44.9 30.1 43.9C31.2 42.9 32.5 40.9 33.5 39.6C34.5 38.3 35.2 36.9 36.1 36.2C37.0 35.5 37.9 35.9 38.7 35.2C39.4 34.5 40.2 32.9 40.5 32.0C40.7 31.1 40.4 30.2 40.2 29.7C39.9 29.1 39.1 28.9 38.9 28.7" fill="#fff" stroke="#111" stroke-width="1.0" stroke-linejoin="round"/><path d="M14.5 27.5C14.3 26.9 14.1 25.1 14.1 24.1C14.1 23.0 14.1 21.6 14.4 20.6C14.7 19.7 15.6 18.7 16.1 17.8C16.7 17.0 17.4 15.6 18.0 14.8C18.7 14.1 19.4 13.4 20.2 12.9C21.0 12.4 22.1 11.7 23.2 11.3C24.3 10.8 26.1 10.3 27.5 10.1C28.9 10.0 31.5 10.1 32.7 10.4C33.8 10.7 34.4 11.9 35.0 12.5C35.7 13.1 36.3 13.7 36.9 14.4C37.4 15.1 38.3 16.2 38.8 17.4C39.2 18.6 39.8 20.9 39.9 22.3C40.0 23.8 39.9 26.0 39.6 27.1C39.3 28.2 38.6 29.1 38.0 29.7C37.4 30.2 36.1 31.3 35.7 31.0C35.3 30.7 35.4 28.5 35.3 27.5C35.3 26.5 35.3 25.1 35.3 24.1C35.3 23.0 35.7 21.3 35.2 20.7C34.7 20.1 33.0 20.1 32.0 19.9C31.0 19.6 29.4 19.1 28.4 18.9C27.4 18.7 26.5 18.4 25.4 18.3C24.2 18.1 21.7 17.9 20.6 18.0C19.6 18.2 18.7 18.5 18.3 19.4C17.8 20.3 17.9 22.7 17.7 24.1C17.6 25.4 17.5 27.7 17.3 28.4C17.0 29.0 16.3 28.5 15.9 28.4C15.5 28.2 14.8 28.1 14.5 27.5Z" fill="#0d0d0d"/><path d="M25.6 14.8Q26 12.6 28.2 11.8M27.6 15.4Q28 13.6 30 12.9" fill="none" stroke="#fff" stroke-width="0.6" stroke-linecap="round" opacity="0.85"/><path d="M18.9 27.7C19.3 27.6 20.3 27.1 21.1 27.1C21.8 27.0 23.0 27.4 23.4 27.5M27.1 27.4C27.5 27.4 28.8 27.0 29.7 27.2C30.5 27.3 31.9 28.0 32.3 28.1" fill="none" stroke="#141414" stroke-linecap="round" stroke-linejoin="round" stroke-width="0.9"/><path d="M20.1 29.4C20.3 29.5 21.0 29.8 21.5 29.8C22.0 29.9 22.7 29.7 23.0 29.7M27.8 29.4C28.1 29.5 28.8 29.8 29.3 29.8C29.8 29.9 30.5 29.7 30.7 29.7" fill="none" stroke="#141414" stroke-linecap="round" stroke-linejoin="round" stroke-width="1.3"/><path d="M24.6 29.2C24.4 29.7 23.9 31.3 23.5 32.2C23.2 33.1 22.7 34.0 22.7 34.6C22.7 35.2 23.4 35.6 23.5 35.8M26.4 35.4L27 35" fill="none" stroke="#141414" stroke-linecap="round" stroke-linejoin="round" stroke-width="0.9"/><path d="M22.3 38.2C22.8 38.4 24.3 39.4 25.4 39.4C26.5 39.4 28.3 38.4 28.9 38.2" fill="none" stroke="#141414" stroke-linecap="round" stroke-linejoin="round" stroke-width="1.0"/></g></svg>
<div class="t t0 name" style="left:310.00px;top:1321px;letter-spacing:0.75px;">Interpret findings</div>
<span class="t t12 status" style="left:768.00px;top:1322px;letter-spacing:-0.38px;">In Progress</span>
<span class="t t8 person" style="left:1046.00px;top:1322px;letter-spacing:0.06px;">Nate Martins</span>
<time class="t t8 date" style="left:1284.00px;top:1321px;letter-spacing:0.37px;">May 19, 2023</time>
<span class="t t11 prio" style="left:1582.00px;top:1322px;letter-spacing:-0.03px;">Medium</span>
<span class="t t13 tag" style="left:1782.00px;top:1322px;letter-spacing:-0.58px;">Research</span>
</div>
<div class="row" role="row">
<div class="b ul" style="left:310px;top:1421px;width:283px;height:2px;background:#dddddb;"></div>
<div class="b chip" style="left:728px;top:1388px;width:208px;height:40px;background:#e3e2e0;border-radius:20px;"></div>
<div class="b dot" style="left:742px;top:1400px;width:16px;height:16px;background:#91918e;border-radius:8px;"></div>
<div class="b chip" style="left:1570px;top:1388px;width:84px;height:40px;background:#ffe2dd;border-radius:6px;"></div>
<div class="b chip" style="left:1770px;top:1388px;width:144px;height:40px;background:#e3e2e0;border-radius:6px;"></div>
<svg class="ic" width="3024" height="1530" viewBox="0 0 3024 1530" aria-hidden="true" focusable="false"><path fill="#a6a19a" transform="translate(269,1394)" d="M0 0H26V13.3H12.8V27H0ZM15.2 16.1H26V18L17.6 27H15.2Z"/><g transform="translate(986,1380)"><circle cx="28" cy="27.95" r="19.35" fill="#fff" stroke="#eeeeed" stroke-width="1.4"/><path d="M17.7 25.7C17.5 25.7 16.7 25.7 16.2 26.0C15.8 26.3 15.4 26.8 15.3 27.5C15.1 28.2 15.2 29.4 15.6 30.3C15.9 31.2 16.7 32.4 17.2 33.1C17.7 33.8 18.2 33.5 18.6 34.5C18.9 35.4 18.7 37.2 19.3 38.7C20.0 40.2 21.3 42.3 22.3 43.4C23.4 44.5 24.4 45.4 25.4 45.6C26.4 45.7 27.2 45.3 28.4 44.3C29.6 43.3 31.5 41.0 32.7 39.5C33.8 38.1 34.4 36.8 35.0 35.7C35.7 34.5 36.0 33.2 36.6 32.7C37.2 32.3 37.9 33.6 38.8 33.1C39.7 32.6 41.4 30.7 42.0 29.7C42.7 28.7 42.7 27.8 42.5 27.2C42.4 26.5 41.5 25.7 40.9 25.8C40.3 25.9 39.2 27.6 38.9 27.9" fill="#fff" stroke="#111" stroke-width="1.0" stroke-linejoin="round"/><path d="M17.3 25.4C17.0 25.0 16.5 23.3 16.3 22.3C16.2 21.4 16.2 20.1 16.4 18.9C16.7 17.7 17.3 15.5 18.0 14.4C18.8 13.2 20.2 11.9 21.5 11.3C22.8 10.6 25.0 10.2 26.6 10.1C28.3 10.0 31.0 10.3 32.7 10.7C34.3 11.2 36.6 12.0 37.8 12.9C39.0 13.7 40.2 15.3 40.8 16.4C41.4 17.6 41.8 19.2 41.8 20.6C41.7 22.0 41.0 24.7 40.6 25.8C40.2 26.9 39.4 27.5 38.9 28.1C38.4 28.8 37.9 30.2 37.5 30.1C37.0 30.0 36.0 28.4 35.9 27.5C35.8 26.6 37.0 25.2 37.0 24.2C36.9 23.1 35.7 21.8 35.3 20.7C34.9 19.6 35.2 17.6 34.4 16.8C33.6 16.1 31.6 16.0 30.1 15.9C28.5 15.8 25.5 15.9 24.1 16.1C22.6 16.3 21.0 16.5 20.2 17.2C19.4 17.9 19.3 19.4 19.0 20.6C18.7 21.9 18.4 24.7 18.1 25.4C17.9 26.2 17.5 25.9 17.3 25.4Z" fill="#0d0d0d"/><path d="M20.2 24.2C20.6 24.0 21.6 23.3 22.3 23.2C23.1 23.1 24.2 23.5 24.6 23.5M27.5 23.5C27.9 23.5 29.3 23.1 30.1 23.2C30.9 23.3 31.9 24.0 32.3 24.2" fill="none" stroke="#141414" stroke-linecap="round" stroke-linejoin="round" stroke-width="0.9"/><ellipse cx="22.6" cy="27" rx="1.35" ry="1.0" fill="#111"/><ellipse cx="29.5" cy="26.9" rx="1.45" ry="1.0" fill="#111"/><path d="M20.6 26.4Q22.6 25.6 24.4 26.6M27.6 26.3Q29.6 25.5 31.6 26.6" fill="none" stroke="#141414" stroke-linecap="round" stroke-linejoin="round" stroke-width="0.8"/><path d="M25.4 24.9C25.3 25.5 24.8 27.2 24.5 28.4C24.2 29.5 23.5 30.9 23.5 31.8C23.5 32.7 24.1 33.4 24.5 33.6C24.9 33.8 25.8 33.1 26.0 33.0" fill="none" stroke="#141414" stroke-linecap="round" stroke-linejoin="round" stroke-width="1.0"/><path d="M21.8 36.5C22.4 36.8 23.8 37.9 25.0 37.9C26.2 37.9 28.2 36.6 28.9 36.4" fill="none" stroke="#141414" stroke-linecap="round" stroke-linejoin="round" stroke-width="1.1"/></g></svg>
<div class="t t0 name" style="left:310.00px;top:1387px;letter-spacing:0.48px;">Write research report</div>
<span class="t t13 status" style="left:768.00px;top:1388px;letter-spacing:0.29px;">Not Started</span>
<span class="t t8 person" style="left:1046.00px;top:1388px;letter-spacing:-0.53px;">Ben Lang</span>
<time class="t t8 date" style="left:1284.00px;top:1387px;letter-spacing:0.37px;">May 22, 2023</time>
<span class="t t14 prio" style="left:1582.00px;top:1388px;letter-spacing:0.14px;">High</span>
<span class="t t13 tag" style="left:1782.00px;top:1388px;letter-spacing:-0.58px;">Research</span>
</div>
</section>
</main>
</body>
</html>
